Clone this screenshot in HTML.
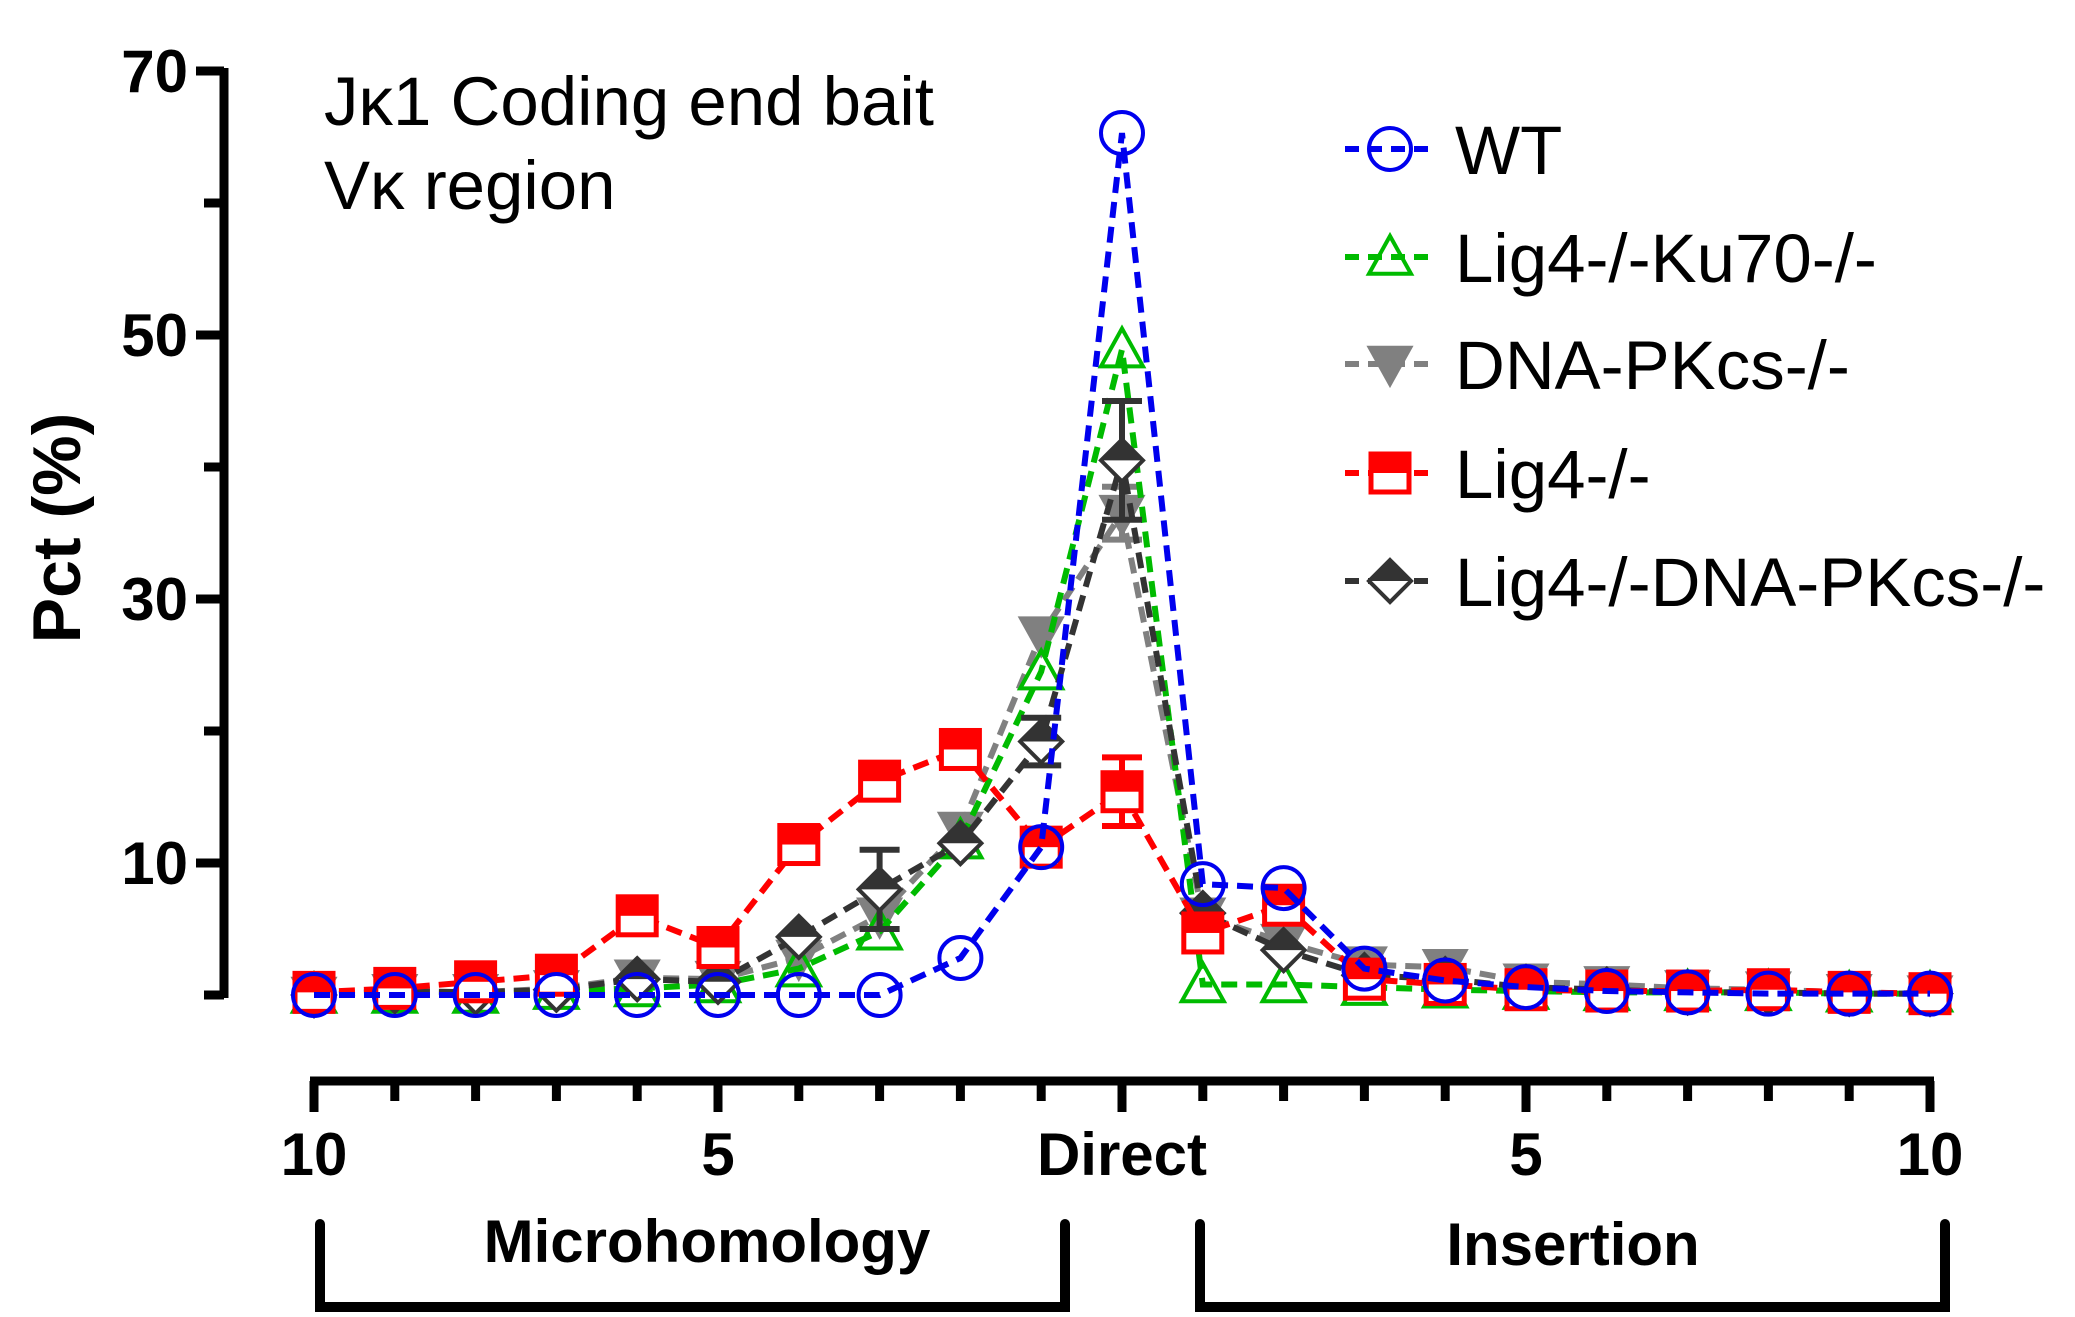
<!DOCTYPE html>
<html><head><meta charset="utf-8">
<style>
html,body{margin:0;padding:0;background:#fff;}
svg{display:block;font-family:"Liberation Sans",Arial,sans-serif;}
</style></head>
<body>
<svg id="chart" width="2075" height="1317" viewBox="0 0 2075 1317" xmlns="http://www.w3.org/2000/svg">
<rect width="2075" height="1317" fill="#fff"/>
<g id="axes"></g>
<g id="series"></g>
<g id="legend"></g>
<text x="324" y="125" font-size="69" fill="#000">Jκ1 Coding end bait</text>
<text x="324" y="209" font-size="69" fill="#000">Vκ region</text>
<text transform="translate(80,528) rotate(-90)" text-anchor="middle" font-size="68" font-weight="bold" fill="#000">Pct (%)</text>
</svg>
<script>
const positions = [-10,-9,-8,-7,-6,-5,-4,-3,-2,-1,0,1,2,3,4,5,6,7,8,9,10];
const xTickLabels = ["10","5","Direct","5","10"];
const xTickAt = [-10,-5,0,5,10];
const yTickLabels = ["10","30","50","70"];
const yTickValues = [10,30,50,70];
const yMinorValues = [0,20,40,60];
const seriesNames = ["WT","Lig4-/-Ku70-/-","DNA-PKcs-/-","Lig4-/-","Lig4-/-DNA-PKcs-/-"];
const wtValues   = [0,0,0,0,0,0,0,0,2.8,11.2,65.3,8.4,8.1,2.0,1.1,0.6,0.3,0.2,0.1,0.1,0.1];
const ku70Values = [0,0,0,0.3,0.5,0.8,2.0,4.8,11.7,24.5,48.9,0.8,0.8,0.6,0.4,0.3,0.2,0.2,0.2,0.1,0.1];
const pkcsValues = [0,0.2,0.2,0.5,1.3,1.2,2.8,6.0,12.5,27.3,36.5,6.0,4.0,2.3,2.1,1.0,0.8,0.5,0.4,0.2,0.1];
const lig4Values = [0.2,0.5,1.0,1.5,6.0,3.6,11.4,16.2,18.6,11.2,15.4,4.7,6.8,1.2,0.8,0.4,0.3,0.3,0.4,0.2,0.1];
const lig4Err    = [0,0,0,0,0,0,0,0,0,0,2.6,0,0,0,0,0,0,0,0,0,0];
const dkValues   = [0,0.3,0.2,0.4,1.2,1.0,4.4,8.0,11.5,19.2,40.5,6.2,3.4,1.5,1.2,0.6,0.4,0.2,0.2,0.1,0.1];
const dkErr      = [0,0,0,0,0,0,0,3.0,0,1.8,4.5,0,0,0,0,0,0,0,0,0,0];
const pkcsErr    = [0,0,0,0,0,0,0,0,0,0,2.0,0,0,0,0,0,0,0,0,0,0];

const NS="http://www.w3.org/2000/svg";
const xS = p => 1122 + p*80.8;
const yS = v => 995 - v*13.2;
function mk(tag, attrs, parent){const e=document.createElementNS(NS,tag);for(const k in attrs)e.setAttribute(k,attrs[k]);parent.appendChild(e);return e;}
const axes=document.getElementById('axes');
let e=mk('line',{x1:224,y1:yS(70)-3,x2:224,y2:yS(0)+3,stroke:'#000','stroke-width':9},axes);


yTickValues.forEach((v,i)=>{
  let t=mk('line',{x1:196,y1:yS(v),x2:224,y2:yS(v),stroke:'#000','stroke-width':9},axes);
  
  
  let l=mk('text',{x:188,y:yS(v)+21,'text-anchor':'end','font-size':60,'font-weight':'bold'},axes);
  l.textContent=yTickLabels[i];
  
  
});
yMinorValues.forEach(v=>{
  let t=mk('line',{x1:204,y1:yS(v),x2:224,y2:yS(v),stroke:'#000','stroke-width':9},axes);
  
  
});
e=mk('line',{x1:xS(-10)-4,y1:1081,x2:xS(10)+4,y2:1081,stroke:'#000','stroke-width':9},axes);


positions.forEach(p=>{
  const major=xTickAt.includes(p);
  let t=mk('line',{x1:xS(p),y1:1081,x2:xS(p),y2:major?1112:1101,stroke:'#000','stroke-width':9},axes);
  
  
});
xTickAt.forEach((p,i)=>{
  let l=mk('text',{x:xS(p),y:1175,'text-anchor':'middle','font-size':60,'font-weight':'bold'},axes);
  l.textContent=xTickLabels[i];
  
  
});
e=mk('path',{d:'M320 1224 V1307 H1065 V1224',fill:'none',stroke:'#000','stroke-width':10,'stroke-linecap':'round'},axes);


e=mk('path',{d:'M1200 1224 V1307 H1945 V1224',fill:'none',stroke:'#000','stroke-width':10,'stroke-linecap':'round'},axes);


e=mk('text',{x:707,y:1262,'text-anchor':'middle','font-size':60,'font-weight':'bold'},axes);e.textContent='Microhomology';


e=mk('text',{x:1573,y:1265,'text-anchor':'middle','font-size':60,'font-weight':'bold'},axes);e.textContent='Insertion';



function marker(g,type,color,cx,cy){
  const r=21;
  if(type==='circle'){mk('circle',{cx:cx,cy:cy,r:r,fill:'none',stroke:color,'stroke-width':4},g);}
  else if(type==='tri'){mk('polygon',{points:`${cx},${cy-r} ${cx-r},${cy+r*0.8} ${cx+r},${cy+r*0.8}`,fill:'none',stroke:color,'stroke-width':4},g);}
  else if(type==='dtri'){mk('polygon',{points:`${cx-r},${cy-r*0.8} ${cx+r},${cy-r*0.8} ${cx},${cy+r}`,fill:color,stroke:color,'stroke-width':3},g);}
  else if(type==='square'){
    mk('rect',{x:cx-r+2,y:cy-r+2,width:2*r-4,height:2*r-4,fill:'#fff',stroke:color,'stroke-width':5},g);
    mk('rect',{x:cx-r,y:cy-r,width:2*r,height:r,fill:color},g);
  } else if(type==='diamond'){
    mk('polygon',{points:`${cx},${cy-r} ${cx+r},${cy} ${cx},${cy+r} ${cx-r},${cy}`,fill:'#fff',stroke:color,'stroke-width':4},g);
    mk('polygon',{points:`${cx},${cy-r} ${cx+r},${cy} ${cx-r},${cy}`,fill:color},g);
  }
}
const sg=document.getElementById('series');
function drawSeries(name,vals,errs,color,type){
  const g=mk('g',{},sg);
  
  
  const pts=positions.map((p,i)=>xS(p)+','+yS(vals[i])).join(' ');
  let l=mk('polyline',{points:pts,fill:'none',stroke:color,'stroke-width':6,'stroke-dasharray':'16 9'},g);
  
  
  positions.forEach((p,i)=>{
    if(errs&&errs[i]>0){
      const x=xS(p);
      let eb=mk('path',{d:`M${x} ${yS(vals[i]-errs[i])} V${yS(vals[i]+errs[i])} M${x-20} ${yS(vals[i]+errs[i])} H${x+20} M${x-20} ${yS(vals[i]-errs[i])} H${x+20}`,stroke:color,'stroke-width':6,fill:'none'},g);
      
      
    }
  });
  positions.forEach((p,i)=>{
    const mg=mk('g',{},g);
    
    
    marker(mg,type,color,xS(p),yS(vals[i]));
  });
}
const styles=[['#0000ee','circle'],['#00bb00','tri'],['#808080','dtri'],['#ff0000','square'],['#333333','diamond']];
drawSeries('dna-pkcs',pkcsValues,pkcsErr,'#808080','dtri');
drawSeries('lig4-ku70',ku70Values,null,'#00bb00','tri');
drawSeries('lig4-dna-pkcs',dkValues,dkErr,'#333333','diamond');
drawSeries('lig4',lig4Values,lig4Err,'#ff0000','square');
drawSeries('wt',wtValues,null,'#0000ee','circle');

const lg=document.getElementById('legend');
const legY=[149,257,364,473,581];
seriesNames.forEach((n,i)=>{
  const g=mk('g',{},lg);
  
  
  const [c,t]=styles[i];
  mk('line',{x1:1345,y1:legY[i],x2:1430,y2:legY[i],stroke:c,'stroke-width':6,'stroke-dasharray':'14 9'},g);
  marker(g,t,c,1390,legY[i]);
  const tx=mk('text',{x:1455,y:legY[i]+25,'font-size':69,fill:'#000'},g);
  tx.textContent=n;
});
</script>
</body></html>
